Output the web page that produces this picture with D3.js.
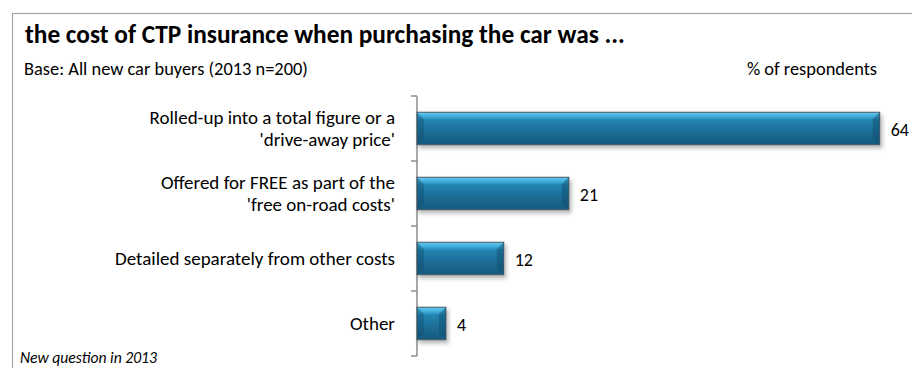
<!DOCTYPE html>
<html>
<head>
<meta charset="utf-8">
<script src="https://cdn.jsdelivr.net/npm/d3@7"></script>
<style>
    body { margin: 0; background: #fff; }
    svg { display: block; font-family: Carlito, Lato, "Open Sans", sans-serif; }
</style>
</head>
<body>
<svg id="chart" width="912" height="368"></svg>
<script>
const categories = [
    ["Rolled-up into a total figure or a", "'drive-away price'"],
    ["Offered for FREE as part of the", "'free on-road costs'"],
    ["Detailed separately from other costs"],
    ["Other"]
];
const values = [64, 21, 12, 4];

const title = "the cost of CTP insurance when purchasing the car was ...";
const subtitle = "Base: All new car buyers (2013 n=200)";
const unitLabel = "% of respondents";
const footnote = "New question in 2013";

const svg = d3.select("#chart");

// squeeze/stretch a text to a target width by adjusting its font size
function fitWidth(sel, target) {
    const node = sel.node();
    const fs = parseFloat(sel.style("font-size"));
    const w = node.getComputedTextLength();
    if (w > 0) sel.style("font-size", (fs * target / w).toFixed(2) + "px");
    return sel;
}

// gradient + shadow for the bevelled bars
const defs = svg.append("defs");
const grad = defs.append("linearGradient").attr("id", "barGrad")
    .attr("x1", 0).attr("y1", 0).attr("x2", 0).attr("y2", 1);
[[0, "#62cbf0"], [0.14, "#3eaad9"], [0.24, "#2385b2"], [0.6, "#1c6d96"], [1, "#155a7e"]]
    .forEach(s => grad.append("stop").attr("offset", s[0]).attr("stop-color", s[1]));

const shadow = defs.append("filter").attr("id", "shadow")
    .attr("x", "-10%").attr("y", "-20%").attr("width", "130%").attr("height", "160%");
shadow.append("feDropShadow").attr("dx", 2).attr("dy", 3).attr("stdDeviation", 2)
    .attr("flood-color", "#000").attr("flood-opacity", 0.3);

// outer frame
svg.append("rect")
    .attr("x", 12.5).attr("y", 13.5).attr("width", 1000).attr("height", 500)
    .attr("fill", "none").attr("stroke", "#a6a6a6").attr("stroke-width", 1.2);

fitWidth(svg.append("text").attr("x", 25).attr("y", 43)
    .style("font-size", "22px").style("font-weight", "bold").attr("fill", "#000")
    .text(title), 600);

const sub = fitWidth(svg.append("text").attr("x", 24).attr("y", 75)
    .style("font-size", "16px").attr("fill", "#000")
    .text(subtitle), 284);

svg.append("text").attr("x", 877).attr("y", 75).attr("text-anchor", "end")
    .style("font-size", sub.style("font-size")).attr("fill", "#000")
    .text(unitLabel);

fitWidth(svg.append("text").attr("x", 20).attr("y", 363)
    .style("font-size", "14px").style("font-style", "italic").attr("fill", "#000")
    .text(footnote), 137);

// scales
const idx = d3.range(categories.length);
const y = d3.scaleBand().domain(idx).range([96, 356]).paddingInner(0.5).paddingOuter(0.25);
const x = d3.scaleLinear().domain([0, 100]).range([417, 1140]);

// axis: line plus ticks at band boundaries
const axisG = svg.append("g").attr("stroke", "#8c8c8c").attr("stroke-width", 1.5);
axisG.append("line").attr("x1", x(0)).attr("x2", x(0)).attr("y1", 96).attr("y2", 356);
const step = y.step();
d3.range(categories.length + 1).forEach(i => {
    const ty = 96 + i * step;
    axisG.append("line").attr("x1", x(0) - 6).attr("x2", x(0)).attr("y1", ty).attr("y2", ty);
});

// bars
const bars = svg.append("g").selectAll("g").data(values).enter().append("g");
bars.append("rect")
    .attr("x", x(0))
    .attr("y", (d, i) => y(i))
    .attr("width", d => x(d) - x(0))
    .attr("height", y.bandwidth())
    .attr("fill", "url(#barGrad)")
    .attr("stroke", "#4a5a66").attr("stroke-width", 1)
    .attr("filter", "url(#shadow)");

// bevel on right end (darker facet)
bars.append("path")
    .attr("d", (d, i) => {
        const x1 = x(d), y0 = y(i), h = y.bandwidth();
        const b = Math.min(7, (x(d) - x(0)) / 4);
        return `M${x1},${y0} L${x1 - b},${y0 + b} L${x1 - b},${y0 + h - b} L${x1},${y0 + h} Z`;
    })
    .attr("fill", "#0f4d6e").attr("opacity", 0.5);
// bevel on left end
bars.append("path")
    .attr("d", (d, i) => {
        const x0 = x(0), y0 = y(i), h = y.bandwidth();
        const b = Math.min(7, (x(d) - x(0)) / 4);
        return `M${x0},${y0} L${x0 + b},${y0 + b} L${x0 + b},${y0 + h - b} L${x0},${y0 + h} Z`;
    })
    .attr("fill", "#0e4a6a").attr("opacity", 0.4);

// value labels
svg.append("g").selectAll("text").data(values).enter().append("text")
    .attr("x", d => x(d) + 11)
    .attr("y", (d, i) => y(i) + y.bandwidth() / 2 + 7)
    .style("font-size", "18px").attr("fill", "#000")
    .text(d => d);

// category labels
const catG = svg.append("g").selectAll("text").data(categories).enter().append("text")
    .attr("text-anchor", "end")
    .style("font-size", "19px").attr("fill", "#000")
    .attr("y", (d, i) => y(i) + y.bandwidth() / 2 + 6.5 - (d.length - 1) * 11);
catG.selectAll("tspan").data(d => d).enter().append("tspan")
    .attr("x", 395)
    .attr("dy", (d, j) => j === 0 ? 0 : 22)
    .text(d => d);
</script>
</body>
</html>
